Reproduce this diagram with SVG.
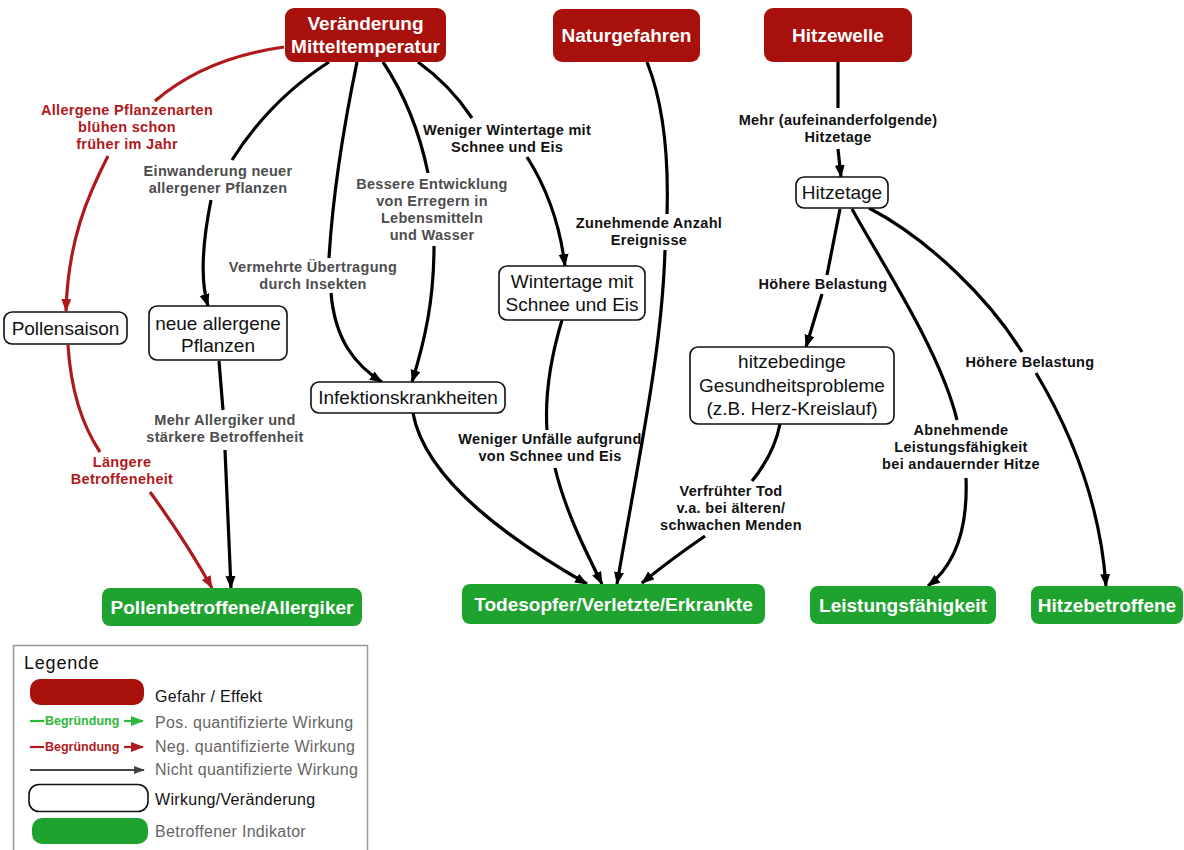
<svg xmlns="http://www.w3.org/2000/svg" width="1184" height="850" viewBox="0 0 1184 850">
<style>
.hz{fill:#a8100c}
.hzt{font-family:"Liberation Sans",Arial,sans-serif;font-weight:bold;font-size:19px;fill:#fff;text-anchor:middle}
.wn{fill:#fff;stroke:#111;stroke-width:1.6}
.wnt{font-family:"Liberation Sans",Arial,sans-serif;font-size:19px;fill:#111;text-anchor:middle}
.gn{fill:#1fa32f}
.gnt{font-family:"Liberation Sans",Arial,sans-serif;font-weight:bold;font-size:19px;fill:#fff;text-anchor:middle}
.c{fill:none;stroke:#000;stroke-width:3.2}
.cr{fill:none;stroke:#b0191b;stroke-width:3.2}
.lb{font-family:"Liberation Sans",Arial,sans-serif;font-weight:bold;font-size:14.5px;letter-spacing:0.3px;text-anchor:middle}
.lk{fill:#111}
.lg{fill:#4d4d4d}
.lr{fill:#b0191b}
.lgt{font-family:"Liberation Sans",Arial,sans-serif;font-size:16px;letter-spacing:0.3px}
.bg{font-family:"Liberation Sans",Arial,sans-serif;font-weight:bold;font-size:12.5px}
</style>
<defs>
<marker id="ak" markerUnits="userSpaceOnUse" markerWidth="14" markerHeight="12" refX="12" refY="5" orient="auto"><path d="M0,0 L13,5 L0,10 z" fill="#000"/></marker>
<marker id="ar" markerUnits="userSpaceOnUse" markerWidth="14" markerHeight="12" refX="12" refY="5" orient="auto"><path d="M0,0 L13,5 L0,10 z" fill="#b0191b"/></marker>
<marker id="ag" markerUnits="userSpaceOnUse" markerWidth="14" markerHeight="12" refX="12" refY="5" orient="auto"><path d="M0,0 L13,5 L0,10 z" fill="#2db83d"/></marker>
<marker id="ak2" markerUnits="userSpaceOnUse" markerWidth="12" markerHeight="10" refX="10" refY="4" orient="auto"><path d="M0,0 L11,4 L0,8 z" fill="#444"/></marker>
</defs>
<rect width="1184" height="850" fill="#fff"/>

<g id="connectors">
<path class="cr" d="M284,47 Q205,58 155,101 M108,156 C88,195 68,240 66,311" marker-end="url(#ar)"/>
<path class="cr" d="M68,345 Q72,410 100,452 M150,492 Q185,540 212,588" marker-end="url(#ar)"/>
<path class="c" d="M329,62 Q270,100 232,160 M211,200 C203,240 200,280 208,306" marker-end="url(#ak)"/>
<path class="c" d="M219,361 L223,410 M225,450 L231,588" marker-end="url(#ak)"/>
<path class="c" d="M357,62 C345,120 333,190 329,258 M331,293 C335,340 355,365 382,382" marker-end="url(#ak)"/>
<path class="c" d="M383,62 Q415,110 428,173 M434,246 C434,300 425,340 412,382" marker-end="url(#ak)"/>
<path class="c" d="M418,62 Q450,85 472,118 M527,157 C548,190 560,225 565,266" marker-end="url(#ak)"/>
<path class="c" d="M562,320 C550,360 545,400 547,430 M555,468 C565,510 585,550 602,584" marker-end="url(#ak)"/>
<path class="c" d="M413,413 C425,480 510,540 587,584" marker-end="url(#ak)"/>
<path class="c" d="M647,62 C662,100 669,150 667,214 M665,250 C662,350 640,450 617,584" marker-end="url(#ak)"/>
<path class="c" d="M838,62 L838,108 M838,149 L841,177" marker-end="url(#ak)"/>
<path class="c" d="M840,209 L827,275 M822,294 L806,347" marker-end="url(#ak)"/>
<path class="c" d="M780,424 C776,445 765,465 752,481 M705,536 Q670,560 642,583" marker-end="url(#ak)"/>
<path class="c" d="M852,209 C880,260 940,350 957,420 M966,478 C968,530 955,565 928,586" marker-end="url(#ak)"/>
<path class="c" d="M869,208 C930,240 990,300 1022,352 M1036,373 C1070,430 1100,500 1106,586" marker-end="url(#ak)"/>
</g>

<g id="connector-labels">
<text class="lb lr"><tspan x="127" y="115">Allergene Pflanzenarten</tspan><tspan x="127" y="132">blühen schon</tspan><tspan x="127" y="149">früher im Jahr</tspan></text>
<text class="lb lr"><tspan x="122" y="467">Längere</tspan><tspan x="122" y="484">Betroffeneheit</tspan></text>
<text class="lb lg"><tspan x="218" y="176">Einwanderung neuer</tspan><tspan x="218" y="193">allergener Pflanzen</tspan></text>
<text class="lb lg"><tspan x="225" y="425">Mehr Allergiker und</tspan><tspan x="225" y="442">stärkere Betroffenheit</tspan></text>
<text class="lb lg"><tspan x="313" y="272">Vermehrte Übertragung</tspan><tspan x="313" y="289">durch Insekten</tspan></text>
<text class="lb lg"><tspan x="432" y="189">Bessere Entwicklung</tspan><tspan x="432" y="206">von Erregern in</tspan><tspan x="432" y="223">Lebensmitteln</tspan><tspan x="432" y="240">und Wasser</tspan></text>
<text class="lb lk"><tspan x="507" y="135">Weniger Wintertage mit</tspan><tspan x="507" y="152">Schnee und Eis</tspan></text>
<text class="lb lk"><tspan x="649" y="228">Zunehmende Anzahl</tspan><tspan x="649" y="245">Ereignisse</tspan></text>
<text class="lb lk"><tspan x="550" y="444">Weniger Unfälle aufgrund</tspan><tspan x="550" y="461">von Schnee und Eis</tspan></text>
<text class="lb lk"><tspan x="838" y="125">Mehr (aufeinanderfolgende)</tspan><tspan x="838" y="142">Hitzetage</tspan></text>
<text class="lb lk"><tspan x="823" y="289">Höhere Belastung</tspan></text>
<text class="lb lk"><tspan x="1030" y="367">Höhere Belastung</tspan></text>
<text class="lb lk"><tspan x="961" y="435">Abnehmende</tspan><tspan x="961" y="452">Leistungsfähigkeit</tspan><tspan x="961" y="469">bei andauernder Hitze</tspan></text>
<text class="lb lk"><tspan x="731" y="496">Verfrühter Tod</tspan><tspan x="731" y="513">v.a. bei älteren/</tspan><tspan x="731" y="530">schwachen Menden</tspan></text>
</g>

<g id="n-veraenderung"><rect class="hz" x="285" y="8" width="161" height="54" rx="9"/><text class="hzt"><tspan x="365.5" y="30">Veränderung</tspan><tspan x="365.5" y="53">Mitteltemperatur</tspan></text></g>
<g id="n-naturgefahren"><rect class="hz" x="553" y="9" width="147" height="53" rx="9"/><text class="hzt" x="626.5" y="42">Naturgefahren</text></g>
<g id="n-hitzewelle"><rect class="hz" x="764" y="8" width="148" height="54" rx="9"/><text class="hzt" x="838" y="42">Hitzewelle</text></g>

<g id="n-hitzetage"><rect class="wn" x="796" y="177" width="92" height="31" rx="8"/><text class="wnt" x="842" y="199">Hitzetage</text></g>
<g id="n-pollensaison"><rect class="wn" x="4" y="312" width="123" height="32" rx="8"/><text class="wnt" x="65.5" y="335">Pollensaison</text></g>
<g id="n-neue"><rect class="wn" x="149" y="306" width="138" height="54" rx="8"/><text class="wnt"><tspan x="218" y="330">neue allergene</tspan><tspan x="218" y="352">Pflanzen</tspan></text></g>
<g id="n-infektion"><rect class="wn" x="311" y="382" width="194" height="31" rx="8"/><text class="wnt" x="408" y="404">Infektionskrankheiten</text></g>
<g id="n-wintertage"><rect class="wn" x="499" y="266" width="146" height="54" rx="8"/><text class="wnt"><tspan x="572" y="288">Wintertage mit</tspan><tspan x="572" y="311">Schnee und Eis</tspan></text></g>
<g id="n-hitzebedinge"><rect class="wn" x="690" y="347" width="204" height="77" rx="8"/><text class="wnt"><tspan x="792" y="368">hitzebedinge</tspan><tspan x="792" y="392">Gesundheitsprobleme</tspan><tspan x="792" y="415">(z.B. Herz-Kreislauf)</tspan></text></g>

<g id="n-pollenbetroffene"><rect class="gn" x="102" y="588" width="260" height="38" rx="8"/><text class="gnt" x="232" y="614">Pollenbetroffene/Allergiker</text></g>
<g id="n-todesopfer"><rect class="gn" x="462" y="584" width="303" height="40" rx="8"/><text class="gnt" x="613.5" y="611">Todesopfer/Verletzte/Erkrankte</text></g>
<g id="n-leistung"><rect class="gn" x="810" y="586" width="186" height="38" rx="8"/><text class="gnt" x="903" y="612">Leistungsfähigkeit</text></g>
<g id="n-hitzebetroffene"><rect class="gn" x="1031" y="586" width="152" height="38" rx="8"/><text class="gnt" x="1107" y="612">Hitzebetroffene</text></g>

<g id="legend">
<rect x="13.5" y="645.5" width="354" height="215" fill="#fff" stroke="#999" stroke-width="1.5"/>
<text x="24" y="669" fill="#111" font-family="'Liberation Sans',Arial,sans-serif" font-size="18px" letter-spacing="0.8px">Legende</text>
<rect class="hz" x="30" y="679" width="114" height="26" rx="10"/>
<text class="lgt" x="155" y="702" fill="#111">Gefahr / Effekt</text>
<path d="M30,721 L44,721" stroke="#2db83d" stroke-width="2.2"/>
<text class="bg" x="45" y="725" fill="#2db83d">Begründung</text>
<path d="M124,721 L143,721" stroke="#2db83d" stroke-width="2.2" marker-end="url(#ag)"/>
<text class="lgt" x="155" y="728" fill="#666">Pos. quantifizierte Wirkung</text>
<path d="M30,747 L44,747" stroke="#b0191b" stroke-width="2.2"/>
<text class="bg" x="45" y="751" fill="#b0191b">Begründung</text>
<path d="M124,747 L143,747" stroke="#b0191b" stroke-width="2.2" marker-end="url(#ar)"/>
<text class="lgt" x="155" y="752" fill="#666">Neg. quantifizierte Wirkung</text>
<path d="M30,770 L144,770" stroke="#444" stroke-width="2" marker-end="url(#ak2)"/>
<text class="lgt" x="155" y="775" fill="#666">Nicht quantifizierte Wirkung</text>
<rect x="29" y="784.5" width="119" height="27" rx="10" fill="#fff" stroke="#111" stroke-width="1.6"/>
<text class="lgt" x="155" y="805" fill="#111">Wirkung/Veränderung</text>
<rect class="gn" x="32" y="818" width="116" height="26" rx="10"/>
<text class="lgt" x="155" y="837" fill="#666">Betroffener Indikator</text>
</g>
</svg>
